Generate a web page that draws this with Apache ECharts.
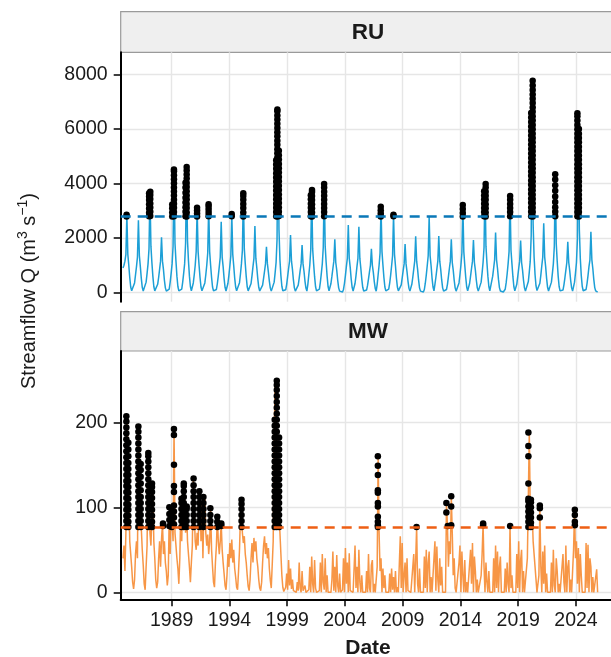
<!DOCTYPE html>
<html><head><meta charset="utf-8">
<script src="https://cdn.jsdelivr.net/npm/echarts@6/dist/echarts.min.js"></script>
<style>html,body{margin:0;padding:0;background:#fff}#c{width:611px;height:657px}</style>
</head><body><div id="c"></div>
<script>
// ---------------- DATA ----------------
const panels = ['RU', 'MW'];
const sampleStart = 1984.79;          // decimal year of first monthly sample (Oct 1984)
const yearTicks = [1989, 1994, 1999, 2004, 2009, 2014, 2019, 2024];
const ruYTicks = [0, 2000, 4000, 6000, 8000];
const mwYTicks = [0, 100, 200];
const ruThreshold = 2780;
const mwThreshold = 76.5;

// RU monthly streamflow, one row per water year (Oct..Sep)
const ruMonthly = [
  [900, 1000, 1150, 1400, 2850, 1400, 1000, 550, 200, 60, 20, 120],
  [350, 650, 950, 1300, 2650, 1350, 950, 520, 190, 55, 20, 120],
  [380, 700, 1050, 1600, 3700, 1700, 1100, 600, 220, 60, 20, 110],
  [300, 550, 850, 1150, 2025, 1150, 850, 450, 170, 50, 20, 20],
  [120, 380, 700, 1050, 1700, 4500, 1800, 1150, 600, 220, 60, 20],
  [20, 120, 380, 700, 1050, 1800, 4600, 1900, 1150, 600, 220, 60],
  [20, 350, 650, 1000, 1500, 3050, 1500, 1000, 550, 200, 60, 20],
  [120, 350, 650, 1000, 1450, 3150, 1500, 1000, 550, 200, 60, 20],
  [20, 110, 330, 620, 950, 1300, 2600, 1300, 950, 520, 190, 55],
  [20, 340, 640, 980, 1350, 2850, 1400, 980, 530, 200, 60, 20],
  [120, 360, 680, 1050, 1550, 3600, 1600, 1050, 580, 210, 60, 20],
  [110, 330, 620, 950, 1250, 2440, 1250, 900, 500, 190, 55, 20],
  [100, 270, 520, 780, 1050, 1680, 1050, 750, 420, 160, 50, 20],
  [120, 380, 720, 1100, 1950, 6700, 2300, 1200, 620, 230, 65, 20],
  [20, 100, 300, 580, 880, 1150, 2110, 1150, 850, 460, 170, 50],
  [20, 90, 270, 520, 800, 1050, 1740, 1050, 780, 420, 160, 50],
  [300, 650, 1000, 1550, 3700, 1600, 1050, 580, 210, 60, 20, 20],
  [120, 380, 700, 1050, 1650, 3950, 1700, 1100, 600, 220, 60, 20],
  [330, 600, 880, 1150, 1950, 1100, 820, 450, 170, 50, 20, 20],
  [20, 110, 330, 620, 950, 1250, 2480, 1250, 920, 500, 190, 55],
  [20, 330, 620, 950, 1250, 2415, 1250, 900, 500, 190, 55, 20],
  [20, 90, 260, 500, 760, 1000, 1600, 1000, 740, 400, 150, 50],
  [300, 650, 1000, 1450, 3150, 1500, 1000, 550, 200, 60, 20, 20],
  [120, 340, 640, 980, 1350, 2850, 1400, 980, 530, 200, 60, 20],
  [100, 280, 540, 800, 1050, 1780, 1050, 760, 420, 160, 50, 120],
  [300, 560, 860, 1150, 2060, 1150, 850, 460, 170, 50, 20, 20],
  [20, 110, 340, 640, 980, 1350, 2790, 1350, 980, 530, 200, 60],
  [300, 560, 860, 1150, 2070, 1150, 850, 460, 170, 50, 20, 20],
  [110, 300, 580, 880, 1150, 1950, 1100, 820, 450, 170, 50, 20],
  [120, 350, 660, 1000, 1450, 3200, 1500, 1000, 550, 200, 60, 120],
  [330, 600, 880, 1150, 1925, 1100, 820, 450, 170, 50, 20, 120],
  [380, 720, 1100, 1650, 3980, 1700, 1100, 600, 220, 60, 20, 120],
  [600, 900, 1200, 2200, 1200, 880, 480, 180, 55, 20, 20, 20],
  [20, 120, 360, 680, 1050, 1500, 3520, 1550, 1050, 580, 210, 60],
  [20, 300, 580, 880, 1150, 1910, 1100, 820, 450, 170, 50, 20],
  [120, 400, 750, 1150, 2100, 7775, 2500, 1300, 650, 240, 70, 20],
  [120, 340, 640, 980, 1300, 2540, 1300, 950, 520, 190, 55, 20],
  [120, 380, 700, 1050, 1700, 4320, 1800, 1150, 600, 220, 60, 20],
  [20, 90, 280, 540, 820, 1100, 1865, 1100, 800, 440, 170, 50],
  [20, 380, 720, 1100, 1950, 6560, 2300, 1250, 620, 230, 65, 20],
  [20, 110, 330, 620, 950, 1200, 2230, 1200, 880, 480, 180, 55],
  [20, 10]
];

// MW monthly streamflow, one row per water year (Oct..Sep)
const mwMonthly = [
  [40, 55, 25, 70, 207, 170, 120, 60, 45, 30, 12, 4],
  [15, 45, 60, 40, 195, 150, 130, 75, 50, 32, 10, 3],
  [30, 55, 164, 110, 70, 55, 90, 128, 60, 40, 15, 5],
  [12, 40, 60, 30, 62, 81, 45, 60, 35, 25, 8, 20],
  [90, 45, 100, 85, 60, 192, 70, 55, 40, 28, 10, 40],
  [95, 60, 115, 128, 110, 70, 100, 60, 45, 30, 12, 35],
  [55, 134, 95, 60, 50, 70, 55, 100, 119, 60, 105, 40],
  [95, 112, 70, 55, 68, 45, 60, 99, 50, 30, 12, 6],
  [35, 55, 89, 60, 45, 60, 81, 50, 35, 22, 8, 3],
  [20, 45, 30, 58, 40, 62, 35, 50, 28, 18, 6, 3],
  [25, 50, 90, 109, 70, 58, 66, 45, 35, 20, 7, 2],
  [15, 40, 58, 35, 64, 48, 60, 40, 30, 15, 5, 2],
  [12, 35, 55, 66, 45, 58, 40, 52, 28, 14, 5, 6],
  [60, 180, 249, 210, 160, 120, 95, 70, 45, 20, 6, 1],
  [1, 6, 22, 3, 38, 8, 28, 4, 15, 2, 0, 0],
  [0, 12, 2, 35, 5, 0, 25, 2, 0, 8, 0, 0],
  [0, 3, 30, 0, 42, 10, 0, 38, 5, 0, 1, 0],
  [2, 35, 0, 45, 12, 3, 40, 0, 20, 0, 0, 0],
  [0, 15, 48, 2, 30, 0, 44, 8, 0, 22, 0, 0],
  [3, 40, 0, 52, 10, 35, 0, 46, 2, 0, 0, 0],
  [0, 55, 5, 30, 0, 50, 12, 0, 20, 0, 1, 0],
  [0, 25, 0, 45, 5, 0, 32, 38, 0, 10, 0, 0],
  [30, 160, 70, 25, 40, 0, 28, 5, 20, 0, 0, 0],
  [0, 22, 0, 28, 3, 18, 0, 25, 0, 6, 0, 0],
  [66, 5, 58, 0, 20, 35, 0, 40, 2, 0, 0, 0],
  [0, 30, 45, 0, 38, 77, 10, 0, 28, 0, 0, 0],
  [0, 42, 5, 50, 0, 35, 48, 0, 18, 0, 0, 0],
  [60, 2, 54, 15, 0, 40, 8, 30, 0, 0, 0, 0],
  [105, 79, 30, 60, 45, 113, 70, 20, 40, 5, 0, 0],
  [0, 35, 55, 0, 48, 20, 0, 38, 0, 12, 0, 0],
  [0, 50, 10, 58, 0, 42, 25, 0, 15, 0, 0, 0],
  [20, 45, 80, 30, 0, 35, 12, 0, 25, 0, 0, 0],
  [0, 40, 0, 55, 5, 48, 0, 30, 42, 0, 0, 0],
  [0, 28, 0, 35, 10, 0, 78, 5, 20, 0, 0, 0],
  [0, 45, 5, 60, 0, 38, 50, 0, 25, 0, 0, 0],
  [40, 110, 188, 100, 105, 95, 60, 45, 30, 15, 0, 0],
  [20, 101, 30, 0, 48, 10, 55, 0, 22, 0, 0, 0],
  [0, 35, 0, 50, 8, 0, 40, 25, 0, 10, 0, 0],
  [0, 45, 12, 0, 55, 0, 30, 38, 0, 15, 0, 0],
  [50, 97, 40, 60, 10, 52, 0, 45, 20, 0, 0, 0],
  [0, 58, 5, 56, 0, 40, 30, 0, 18, 0, 0, 0],
  [27, 0]
];

// Daily flows above the threshold (black points), grouped by date
const ruEventDates = [1985.10, 1987.05, 1987.15, 1989.05, 1989.20, 1990.20, 1990.30, 1991.20, 1992.20, 1994.20, 1995.20,
  1998.05, 1998.15, 1998.28, 2001.05, 2001.15, 2002.20, 2007.10, 2008.20, 2014.20, 2016.05, 2016.18, 2018.30,
  2020.12, 2020.25, 2022.20, 2024.12, 2024.25];
const ruEventValues = [
  [2790, 2850],
  [2800, 2930, 3080, 3240, 3390, 3520, 3640],
  [2810, 2960, 3120, 3270, 3430, 3580, 3700],
  [2790, 2940, 3090, 3230],
  [2800, 2950, 3110, 3260, 3400, 3560, 3710, 3850, 4010, 4160, 4300, 4450, 4510],
  [2800, 2960, 3130, 3300, 3480, 3660, 3850, 4030],
  [2790, 2940, 3100, 3250, 3410, 3560, 3720, 3870, 4020, 4180, 4330, 4480, 4610],
  [2790, 2900, 3010, 3110],
  [2800, 2920, 3040, 3150, 3240],
  [2800, 2880],
  [2790, 2940, 3100, 3250, 3400, 3540, 3640],
  [2800, 2950, 3110, 3260, 3420, 3580, 3740, 3900, 4060, 4220, 4380, 4540, 4700, 4850],
  [2790, 2940, 3090, 3250, 3400, 3560, 3710, 3870, 4020, 4180, 4330, 4490, 4640, 4800, 4950, 5110, 5260, 5420, 5570, 5730, 5880, 6040, 6190, 6350, 6500, 6650, 6720],
  [2810, 2960, 3120, 3280, 3440, 3600, 3760, 3920, 4080, 4240, 4400, 4560, 4720, 4880, 5040, 5200],
  [2800, 2950, 3110, 3260, 3420, 3570],
  [2790, 2940, 3090, 3240, 3390, 3540, 3690, 3760],
  [2800, 2950, 3100, 3250, 3400, 3550, 3700, 3850, 3980],
  [2790, 2900, 3020, 3150],
  [2800, 2850],
  [2790, 2920, 3060, 3210],
  [2800, 2950, 3100, 3260, 3410, 3560, 3720],
  [2790, 2940, 3090, 3240, 3400, 3550, 3700, 3850, 3980],
  [2800, 2950, 3100, 3250, 3400, 3540],
  [2800, 2960, 3120, 3290, 3450, 3620, 3780, 3950, 4110, 4280, 4440, 4610, 4770, 4940, 5100, 5270, 5430, 5600, 5760, 5930, 6090, 6260, 6420, 6590],
  [2790, 2950, 3110, 3270, 3430, 3590, 3750, 3910, 4070, 4230, 4390, 4550, 4710, 4870, 5030, 5190, 5350, 5510, 5670, 5830, 5990, 6150, 6310, 6470, 6630, 6790, 6950, 7110, 7270, 7430, 7600, 7775],
  [2800, 2960, 3130, 3320, 3520, 3730, 3940, 4150, 4335],
  [2800, 2950, 3110, 3270, 3430, 3590, 3750, 3910, 4070, 4230, 4390, 4550, 4710, 4870, 5030, 5190, 5350, 5510, 5670, 5830, 5990, 6150, 6310, 6470, 6575],
  [2790, 2950, 3110, 3270, 3430, 3590, 3750, 3910, 4070, 4230, 4390, 4550, 4710, 4870, 5030, 5190, 5350, 5510, 5670, 5830, 6000]
];

const mwEventDates = [1985.08, 1985.25, 1986.12, 1986.32, 1986.98, 1987.30, 1988.25, 1988.80, 1989.00, 1989.20,
  1989.85, 1990.05, 1990.30, 1990.90, 1991.40, 1991.75, 1992.35, 1992.95, 1993.30, 1995.05, 1997.92, 1998.10,
  1998.30, 2006.85, 2010.20, 2012.78, 2012.90, 2013.20, 2015.96, 2018.30, 2019.88, 2020.10, 2020.87, 2023.90];
const mwEventValues = [
  [77, 84, 90, 97, 104, 111, 118, 125, 131, 138, 145, 152, 159, 166, 173, 180, 187, 194, 201, 207],
  [77, 83, 90, 97, 103, 110, 117, 124, 131, 138, 145, 152, 160, 168, 176],
  [77, 84, 91, 98, 105, 112, 119, 126, 133, 140, 147, 154, 161, 168, 175, 182, 189, 195],
  [77, 84, 91, 98, 105, 112, 120, 128, 136, 144, 151],
  [77, 84, 91, 98, 105, 112, 119, 126, 133, 140, 147, 154, 160, 164],
  [77, 83, 90, 97, 104, 111, 118, 124, 128],
  [78, 81],
  [78, 85, 92, 100],
  [77, 83, 90, 97],
  [80, 88, 95, 102, 118, 125, 150, 185, 192],
  [77, 84, 91, 98, 105, 110],
  [77, 84, 91, 98, 105, 112, 119, 125, 128],
  [77, 84, 91, 98, 101],
  [77, 84, 91, 98, 105, 112, 119, 126, 134],
  [77, 84, 91, 98, 105, 112, 119],
  [77, 84, 91, 98, 105, 112],
  [77, 84, 91, 99],
  [77, 83, 89],
  [78, 81],
  [77, 84, 91, 98, 104, 109],
  [77, 84, 91, 98, 105, 112, 119, 126, 133, 140, 147, 154, 161, 168, 175, 182, 189, 196, 203],
  [77, 84, 91, 98, 105, 112, 119, 126, 133, 140, 147, 154, 161, 168, 175, 182, 189, 196, 203, 210, 217, 224, 231, 238, 244, 249],
  [77, 84, 91, 98, 105, 112, 119, 126, 133, 140, 147, 154, 161, 168, 175, 182],
  [77, 79, 83, 89, 101, 105, 117, 120, 138, 149, 160],
  [77],
  [94, 105],
  [78],
  [79, 101, 113],
  [79, 81],
  [78],
  [77, 83, 89, 95, 101, 107, 110, 128, 160, 172, 188],
  [77, 82, 88, 94, 100, 106, 109],
  [88, 99, 102],
  [79, 83, 91, 97]
];

// ---------------- BUILD ----------------
function toLine(rows) {
  return rows.flat().map((v, i) => [sampleStart + i / 12, v]);
}
function toDots(dates, values) {
  const out = [];
  dates.forEach((d, i) => values[i].forEach(v => out.push([d, v])));
  return out;
}
const FONT = '"Liberation Sans", Arial, Helvetica, sans-serif';
const TXT = '#1a1a1a';
const GRIDC = '#E6E6E6';
const L = 120.7;
const xMin = 1984.59, xMax = 2027.03;

function xAx(i, bottom) {
  return {
    gridIndex: i, type: 'value', min: xMin, max: xMax,
    axisLine: { show: bottom, onZero: false, lineStyle: { color: '#000', width: 2 } },
    axisTick: { show: bottom, length: 7, customValues: yearTicks, lineStyle: { color: '#000', width: 1.5 } },
    axisLabel: { show: bottom, customValues: yearTicks, margin: 11, fontSize: 19.5, color: TXT, fontFamily: FONT, formatter: v => String(v) },
    splitLine: { show: true, lineStyle: { color: GRIDC, width: 1.4 } }
  };
}
function yAx(i, min, max, ticks) {
  return {
    gridIndex: i, type: 'value', min: min, max: max,
    axisLine: { show: true, onZero: false, lineStyle: { color: '#000', width: 2 } },
    axisTick: { show: true, length: 7, customValues: ticks, lineStyle: { color: '#000', width: 1.5 } },
    axisLabel: { customValues: ticks, margin: 13, fontSize: 19.5, color: TXT, fontFamily: FONT, formatter: v => String(v) },
    splitLine: { show: true, lineStyle: { color: GRIDC, width: 1.4 } }
  };
}

const chart = echarts.init(document.getElementById('c'), null, { renderer: 'canvas' });
chart.setOption({
  animation: false,
  backgroundColor: '#fff',
  grid: [
    { left: L, right: 0, top: 52.3, height: 249.4 },
    { left: L, right: 0, top: 351, height: 248.3 }
  ],
  xAxis: [xAx(0, false), xAx(1, true)],
  yAxis: [yAx(0, -338, 8815, ruYTicks), yAx(1, -8.2, 283.9, mwYTicks)],
  series: [
    {
      type: 'line', xAxisIndex: 0, yAxisIndex: 0, data: toLine(ruMonthly), showSymbol: false, z: 2,
      lineStyle: { color: '#1C9FD6', width: 1.5 },
      markLine: { silent: true, symbol: 'none', label: { show: false },
        lineStyle: { color: '#0A78B8', type: [10, 7], width: 2.5 }, data: [{ yAxis: ruThreshold }] }
    },
    { type: 'scatter', xAxisIndex: 0, yAxisIndex: 0, data: toDots(ruEventDates, ruEventValues), symbolSize: 6.5, z: 4,
      itemStyle: { color: '#000', opacity: 1 } },
    {
      type: 'line', xAxisIndex: 1, yAxisIndex: 1, data: toLine(mwMonthly), showSymbol: false, z: 2,
      lineStyle: { color: '#F7903C', width: 1.5, opacity: 0.95 },
      markLine: { silent: true, symbol: 'none', label: { show: false },
        lineStyle: { color: '#EE5F14', type: [10, 7], width: 2.5 }, data: [{ yAxis: mwThreshold }] }
    },
    { type: 'scatter', xAxisIndex: 1, yAxisIndex: 1, data: toDots(mwEventDates, mwEventValues), symbolSize: 6.5, z: 4,
      itemStyle: { color: '#000', opacity: 1 } }
  ],
  graphic: [
    { type: 'rect', shape: { x: L, y: 11.7, width: 500, height: 40.6 }, style: { fill: '#EFEFEF', stroke: '#9A9A9A', lineWidth: 1.2 } },
    { type: 'text', x: 368, y: 32.5, style: { text: panels[0], font: 'bold 22.5px ' + FONT, fill: TXT, align: 'center', verticalAlign: 'middle', textAlign: 'center', textVerticalAlign: 'middle' } },
    { type: 'rect', shape: { x: L, y: 311.7, width: 500, height: 39.3 }, style: { fill: '#EFEFEF', stroke: '#9A9A9A', lineWidth: 1.2 } },
    { type: 'text', x: 368, y: 331.8, style: { text: panels[1], font: 'bold 22.5px ' + FONT, fill: TXT, align: 'center', verticalAlign: 'middle', textAlign: 'center', textVerticalAlign: 'middle' } },
    { type: 'text', x: 368, y: 648, style: { text: 'Date', font: 'bold 21px ' + FONT, fill: TXT, align: 'center', verticalAlign: 'middle', textAlign: 'center', textVerticalAlign: 'middle' } },
    { type: 'text', x: 29, y: 291, rotation: Math.PI / 2,
      style: {
        text: '{n|Streamflow Q (m}{s|3}{n| s}{s|−1}{n|)}',
        rich: {
          n: { fontSize: 20, fontFamily: FONT, fill: TXT, lineHeight: 26 },
          s: { fontSize: 14, fontFamily: FONT, fill: TXT, lineHeight: 16, verticalAlign: 'top' }
        },
        fill: TXT, align: 'center', verticalAlign: 'middle', textAlign: 'center', textVerticalAlign: 'middle'
      } }
  ]
});
</script></body></html>
